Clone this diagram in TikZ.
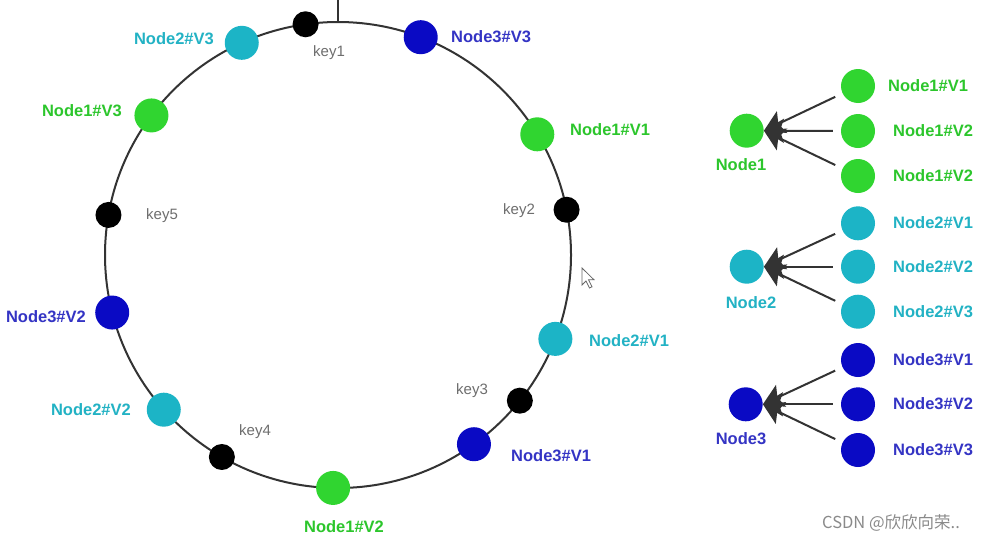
\documentclass[tikz,border=0pt]{standalone}
\usepackage{fontspec}
\setmainfont{Liberation Sans}
\newfontfamily\cjk{Noto Sans CJK SC}
\usetikzlibrary{arrows.meta}
\definecolor{ngreen}{HTML}{30D530}
\definecolor{ncyan}{HTML}{1CB4C6}
\definecolor{nblue}{HTML}{0A0AC4}
\definecolor{tgreen}{HTML}{2CC62C}
\definecolor{tcyan}{HTML}{22B2C4}
\definecolor{tblue}{HTML}{3434C4}
\definecolor{ringc}{HTML}{333333}
\definecolor{keyc}{HTML}{6E6E6E}
\definecolor{wmark}{HTML}{8A8A8A}
\begin{document}
\begin{tikzpicture}[x=1pt,y=-1pt,
  dot/.style={circle,inner sep=0,minimum size=34pt},
  gdot/.style={dot,fill=ngreen},
  cdot/.style={dot,fill=ncyan},
  bdot/.style={dot,fill=nblue},
  kdot/.style={circle,inner sep=0,minimum size=26pt,fill=black},
  lbl/.style={inner sep=0,font=\bfseries\fontsize{16.5}{18}\selectfont},
  glbl/.style={lbl,text=tgreen},
  clbl/.style={lbl,text=tcyan},
  blbl/.style={lbl,text=tblue},
  klbl/.style={inner sep=0,text=keyc,font=\fontsize{15}{17}\selectfont},
  ring/.style={draw=ringc,line width=2pt},
  conn/.style={draw=ringc,line width=2pt,-{Stealth[length=20pt,width=24pt,inset=4pt]},shorten <=8pt}]
\useasboundingbox[fill=white] (0,0) rectangle (1000,541);

\coordinate (c) at (338,255);
\coordinate (ptop) at ([shift={(90:233pt)}]c);
\coordinate (vt) at (338,0);
\draw[ring] (c) circle[radius=233pt];
\draw[ringc,line width=1.6pt] (vt) -- (ptop);

% ring dots
\node[kdot] (k1) at ([shift={(98.0:233pt)}]c) {};
\node[kdot] (k2) at ([shift={(11.2:233pt)}]c) {};
\node[kdot] (k3) at ([shift={(-38.7:233pt)}]c) {};
\node[kdot] (k4) at ([shift={(240.1:233pt)}]c) {};
\node[kdot] (k5) at ([shift={(170.1:233pt)}]c) {};
\node[gdot] (N11) at ([shift={(31.2:233pt)}]c) {};
\node[gdot] (N12) at ([shift={(268.8:233pt)}]c) {};
\node[gdot] (N13) at ([shift={(143.2:233pt)}]c) {};
\node[cdot] (N21) at ([shift={(-21.1:233pt)}]c) {};
\node[cdot] (N22) at ([shift={(221.6:233pt)}]c) {};
\node[cdot] (N23) at ([shift={(114.4:233pt)}]c) {};
\node[bdot] (N31) at ([shift={(-54.3:233pt)}]c) {};
\node[bdot] (N32) at ([shift={(194.3:233pt)}]c) {};
\node[bdot] (N33) at ([shift={(69.2:233pt)}]c) {};

% ring labels
\node[klbl] (lk1) at (329,53) {key1};
\node[klbl] (lk2) at (519,211) {key2};
\node[klbl] (lk3) at (472,391) {key3};
\node[klbl] (lk4) at (255,432) {key4};
\node[klbl] (lk5) at (162,216) {key5};
\node[glbl,anchor=west] (lN11) at (570,130) {Node1\#V1};
\node[glbl] (lN12) at (344,527) {Node1\#V2};
\node[glbl,anchor=east] (lN13) at (122,111) {Node1\#V3};
\node[clbl,anchor=west] (lN21) at (589,341) {Node2\#V1};
\node[clbl,anchor=east] (lN22) at (131,410) {Node2\#V2};
\node[clbl,anchor=east] (lN23) at (214,39) {Node2\#V3};
\node[blbl,anchor=west] (lN31) at (511,456) {Node3\#V1};
\node[blbl,anchor=east] (lN32) at (86,317) {Node3\#V2};
\node[blbl,anchor=west] (lN33) at (451,37) {Node3\#V3};

% cursor
\draw[fill=white,draw=gray!80!black,line width=0.8pt] (582,268) -- ++(0,17) -- ++(4,-4) -- ++(3.5,7) -- ++(2.5,-1.2) -- ++(-3.5,-7) -- ++(5.5,0) -- cycle;

% right side groups
\node[gdot] (n1) at (746.7,130.7) {};
\node[gdot] (r11) at (858,86) {};
\node[gdot] (r12) at (858,131) {};
\node[gdot] (r13) at (858,176) {};
\node[glbl] (ln1) at (741,165) {Node1};
\node[glbl,anchor=west] (lr11) at (888,86) {Node1\#V1};
\node[glbl,anchor=west] (lr12) at (893,131) {Node1\#V2};
\node[glbl,anchor=west] (lr13) at (893,176) {Node1\#V2};
\draw[conn] (r11) -- (n1.east);
\draw[conn] (r12) -- (n1.east);
\draw[conn] (r13) -- (n1.east);

\node[cdot] (n2) at (746.7,266.7) {};
\node[cdot] (r21) at (858,223.3) {};
\node[cdot] (r22) at (858,266.7) {};
\node[cdot] (r23) at (858,311.7) {};
\node[clbl] (ln2) at (751,303) {Node2};
\node[clbl,anchor=west] (lr21) at (893,223) {Node2\#V1};
\node[clbl,anchor=west] (lr22) at (893,267) {Node2\#V2};
\node[clbl,anchor=west] (lr23) at (893,312) {Node2\#V3};
\draw[conn] (r21) -- (n2.east);
\draw[conn] (r22) -- (n2.east);
\draw[conn] (r23) -- (n2.east);

\node[bdot] (n3) at (745.7,404.3) {};
\node[bdot] (r31) at (858,360) {};
\node[bdot] (r32) at (858,404.3) {};
\node[bdot] (r33) at (858,450) {};
\node[blbl] (ln3) at (741,439) {Node3};
\node[blbl,anchor=west] (lr31) at (893,360) {Node3\#V1};
\node[blbl,anchor=west] (lr32) at (893,404) {Node3\#V2};
\node[blbl,anchor=west] (lr33) at (893,450) {Node3\#V3};
\draw[conn] (r31) -- (n3.east);
\draw[conn] (r32) -- (n3.east);
\draw[conn] (r33) -- (n3.east);

% watermark
\node[inner sep=0,anchor=west,text=wmark,font=\cjk\fontsize{16.5}{18}\selectfont] (wm) at (822,523) {CSDN @欣欣向荣..};
\end{tikzpicture}
\end{document}
